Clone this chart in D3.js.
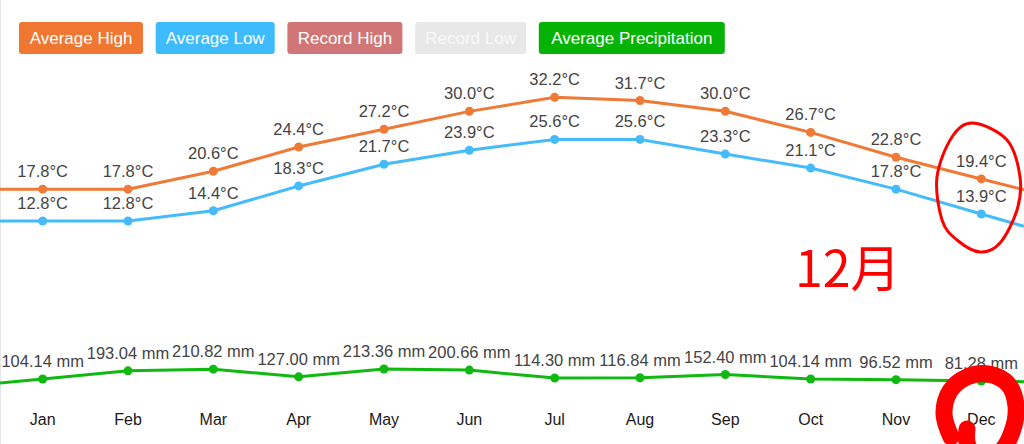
<!DOCTYPE html>
<html>
<head>
<meta charset="utf-8">
<script src="https://cdn.jsdelivr.net/npm/d3@7"></script>
<style>
  body { margin: 0; background: #fff; }
  svg { display: block; font-family: "Liberation Sans", Arial, sans-serif; }
</style>
</head>
<body>
<div id="chart"></div>
<script>
////////////////////////////////////////////////////////////////////////
// Data

let months = ["Jan", "Feb", "Mar", "Apr", "May", "Jun",
              "Jul", "Aug", "Sep", "Oct", "Nov", "Dec"];
let avgHigh = [17.8, 17.8, 20.6, 24.4, 27.2, 30.0, 32.2, 31.7, 30.0, 26.7, 22.8, 19.4];
let avgLow  = [12.8, 12.8, 14.4, 18.3, 21.7, 23.9, 25.6, 25.6, 23.3, 21.1, 17.8, 13.9];
let precip  = [104.14, 193.04, 210.82, 127.00, 213.36, 200.66,
               114.30, 116.84, 152.40, 104.14, 96.52, 81.28];

let legendNames = ["Average High", "Average Low", "Record High", "Record Low", "Average Precipitation"];
let legendFill  = ["#f07732", "#3dbbfd", "#d07676", "#e8e8e8", "#05b305"];
let legendText  = ["#fff", "#fff", "#fff", "#f9f9f9", "#fff"];
let legendWidth = [124, 119, 115, 111, 186];

////////////////////////////////////////////////////////////////////////
// Scales

let width = 1024;
let height = 444;

let xScale = d3.scalePoint().domain(months).range([0, width]).padding(0.5);
let tempScale = d3.scaleLinear().domain([0, 40]).range([302.6, 47.6]);
let precipScale = d3.scaleLinear().domain([0, 250]).range([388.5, 365.6]);

let svg = d3.select("#chart").append("svg")
    .attr("width", width)
    .attr("height", height);

// faint frame on the left
svg.append("line")
    .attr("x1", 0.5).attr("x2", 0.5)
    .attr("y1", 0).attr("y2", height)
    .attr("stroke", "#e4e4e4");

////////////////////////////////////////////////////////////////////////
// Legend buttons

let legendX = [];
legendWidth.reduce(function(x, w) { legendX.push(x); return x + w + 12.7; }, 19);

let buttons = svg.append("g").selectAll("g")
    .data(legendNames)
    .enter().append("g")
    .attr("transform", function(d, i) { return "translate(" + legendX[i] + ",22)"; });

buttons.append("rect")
    .attr("width", function(d, i) { return legendWidth[i]; })
    .attr("height", 32)
    .attr("rx", 3)
    .attr("fill", function(d, i) { return legendFill[i]; });

buttons.append("text")
    .attr("x", function(d, i) { return legendWidth[i] / 2; })
    .attr("y", 22)
    .attr("text-anchor", "middle")
    .attr("font-size", 17)
    .attr("fill", function(d, i) { return legendText[i]; })
    .text(function(d) { return d; });

////////////////////////////////////////////////////////////////////////
// Series

// the lines run on to both edges, continuing the first and last segment
function edgePoints(values, scale) {
  let n = values.length;
  let step = xScale.step() / 2;
  let pts = values.map(function(v, i) { return [xScale(months[i]), scale(v)]; });
  let first = values[0] - (values[1] - values[0]) / 2;
  let last = values[n - 1] + (values[n - 1] - values[n - 2]) / 2;
  pts.unshift([xScale(months[0]) - step, scale(first)]);
  pts.push([xScale(months[n - 1]) + step, scale(last)]);
  return pts;
}

function drawSeries(values, scale, color, format) {
  let g = svg.append("g");
  g.append("path")
    .attr("d", d3.line()(edgePoints(values, scale)))
    .attr("fill", "none")
    .attr("stroke", color)
    .attr("stroke-width", 3);
  g.selectAll("circle")
    .data(values)
    .enter().append("circle")
    .attr("cx", function(d, i) { return xScale(months[i]); })
    .attr("cy", function(d) { return scale(d); })
    .attr("r", 4.5)
    .attr("fill", color);
  g.selectAll("text")
    .data(values)
    .enter().append("text")
    .attr("x", function(d, i) { return xScale(months[i]); })
    .attr("y", function(d) { return scale(d) - 12; })
    .attr("text-anchor", "middle")
    .attr("font-size", 16.5)
    .attr("fill", "#444")
    .text(format);
}

drawSeries(avgHigh, tempScale, "#ef7a35", function(d) { return d.toFixed(1) + "°C"; });
drawSeries(avgLow, tempScale, "#45bbfb", function(d) { return d.toFixed(1) + "°C"; });
drawSeries(precip, precipScale, "#10b910", function(d) { return d.toFixed(2) + " mm"; });

// month labels
svg.append("g").selectAll("text")
    .data(months)
    .enter().append("text")
    .attr("x", function(d) { return xScale(d); })
    .attr("y", 425)
    .attr("text-anchor", "middle")
    .attr("font-size", 16)
    .attr("fill", "#1a1a1a")
    .text(function(d) { return d; });

////////////////////////////////////////////////////////////////////////
// Red hand marks over December

let loopAround = [[973, 123], [1007, 140], [1020, 177], [1017, 210], [1000, 243],
                  [980, 252], [957, 240], [942, 220], [937, 177], [952, 137]];
let ringAround = [[951, 437], [944, 414], [950, 391], [967, 377], [988, 374],
                  [1008, 384], [1016, 406], [1012, 432], [1000, 452], [980, 458],
                  [968, 446], [967, 429]];

svg.append("path")
    .attr("d", d3.line().curve(d3.curveCardinalClosed)(loopAround))
    .attr("fill", "none")
    .attr("stroke", "#ff0000")
    .attr("stroke-width", 3);

svg.append("path")
    .attr("d", d3.line().curve(d3.curveCatmullRom)(ringAround))
    .attr("fill", "none")
    .attr("stroke", "#ff0000")
    .attr("stroke-width", 17)
    .attr("stroke-linecap", "round");

svg.append("text")
    .attr("x", 795)
    .attr("y", 287)
    .attr("font-family", "'Noto Sans CJK JP', sans-serif")
    .attr("font-size", 50)
    .attr("font-weight", 400)
    .attr("fill", "#ff0000")
    .text("12月");
</script>
</body>
</html>
